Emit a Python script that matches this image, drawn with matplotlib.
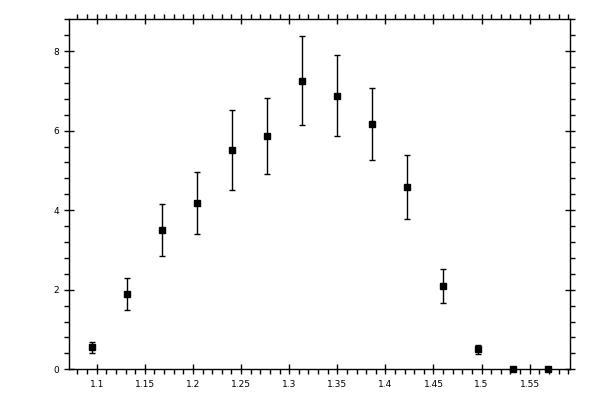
import matplotlib
matplotlib.use("Agg")
import matplotlib.pyplot as plt
from matplotlib.ticker import MultipleLocator, FixedFormatter, FixedLocator

# valores
x_centers = [1.0954, 1.1318, 1.1682, 1.2046, 1.2410, 1.2774, 1.3138,
             1.3502, 1.3866, 1.4230, 1.4594, 1.4958, 1.5322, 1.5686]
y_values = [0.55, 1.89, 3.50, 4.18, 5.52, 5.87, 7.25,
            6.88, 6.17, 4.58, 2.09, 0.50, 0.0, 0.0]
y_errors = [0.14, 0.40, 0.66, 0.79, 1.00, 0.95, 1.12,
            1.02, 0.91, 0.81, 0.42, 0.12, 0.0, 0.0]

x_ticks = [1.1, 1.15, 1.2, 1.25, 1.3, 1.35, 1.4, 1.45, 1.5, 1.55]
x_labels = ["1.1", "1.15", "1.2", "1.25", "1.3", "1.35", "1.4", "1.45", "1.5", "1.55"]
y_ticks = [0, 2, 4, 6, 8]
y_labels = ["0", "2", "4", "6", "8"]

fig = plt.figure(figsize=(6, 4), dpi=100)
ax = fig.add_axes([0.1155, 0.0768, 0.8345, 0.875])

ax.errorbar(x_centers, y_values, yerr=y_errors, fmt="s", color="black",
            markersize=5, elinewidth=1, capsize=2.5, capthick=1,
            clip_on=False, zorder=3)

ax.set_xlim(1.0715, 1.5919)
ax.set_ylim(0, 8.8)

ax.xaxis.set_major_locator(FixedLocator(x_ticks))
ax.xaxis.set_major_formatter(FixedFormatter(x_labels))
ax.xaxis.set_minor_locator(MultipleLocator(0.01))
ax.yaxis.set_major_locator(FixedLocator(y_ticks))
ax.yaxis.set_major_formatter(FixedFormatter(y_labels))
ax.yaxis.set_minor_locator(MultipleLocator(0.4))

ax.tick_params(which="major", direction="inout", length=7, width=1,
               top=True, right=True, labelsize=6.5, pad=4)
ax.tick_params(which="minor", direction="out", length=3.5, width=1,
               top=True, right=True)

for s in ax.spines.values():
    s.set_linewidth(1)

plt.savefig("out.png", dpi=100)
